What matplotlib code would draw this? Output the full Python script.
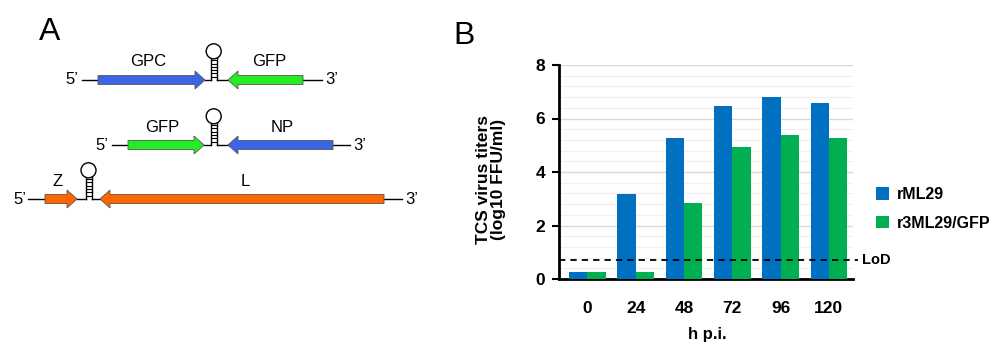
import matplotlib
matplotlib.use("Agg")
import matplotlib.pyplot as plt
import numpy as np
from matplotlib.patches import Polygon, Circle

plt.rcParams['font.family'] = ['Liberation Sans', 'DejaVu Sans']

# ---- data (panel B) ----
hpi = ["0", "24", "48", "72", "96", "120"]
rML29 = [0.27, 3.17, 5.28, 6.46, 6.80, 6.58]
r3ML29_GFP = [0.27, 0.27, 2.85, 4.92, 5.38, 5.28]
lod = 0.71
series_names = ["rML29", "r3ML29/GFP"]
series_colors = ["#0070C0", "#00B050"]

fig = plt.figure(figsize=(10, 3.56), dpi=100)

# ---- panel A: genome diagrams (pixel coordinate overlay) ----
axA = fig.add_axes([0, 0, 1, 1])
axA.set_xlim(0, 1000)
axA.set_ylim(356, 0)
axA.axis('off')

BLUE = "#3B64E6"
GREEN = "#22EE22"
ORANGE = "#FF6600"

def gene_arrow(x_tail, x_tip, y, color):
    d = 1 if x_tip > x_tail else -1
    hl = 10
    bh = 4.5
    hh = 9
    xb = x_tip - d * hl
    pts = [(x_tail, y - bh), (xb, y - bh), (xb, y - hh), (x_tip, y),
           (xb, y + hh), (xb, y + bh), (x_tail, y + bh)]
    axA.add_patch(Polygon(pts, closed=True, facecolor=color,
                          edgecolor="#555555", lw=0.6, zorder=3))

def stem_loop(xc, y, top):
    xl, xr = xc - 3, xc + 3
    axA.plot([xl, xl], [y, top], color='black', lw=1.0, zorder=2)
    axA.plot([xr, xr], [y, top], color='black', lw=1.0, zorder=2)
    for yy in np.arange(y - 3.3, top, -3.3):
        axA.plot([xl, xr], [yy, yy], color='black', lw=0.8, zorder=2)
    r = 7.5
    axA.add_patch(Circle((xc, top - r + 0.8), r, facecolor='white',
                         edgecolor='black', lw=1.0, zorder=2))

def seg(x0, x1, y):
    axA.plot([x0, x1], [y, y], color='black', lw=1.0, zorder=1)

fsA = 12
# row 1
y = 80
axA.text(72, y, "5\u2019", ha='center', va='center', fontsize=fsA)
seg(82, 98, y)
gene_arrow(98, 205, y, BLUE)
seg(205, 211, y)
stem_loop(213.7, y, 58)
seg(216.7, 228, y)
gene_arrow(303, 228, y, GREEN)
seg(303, 322, y)
axA.text(332, y, "3\u2019", ha='center', va='center', fontsize=fsA)
axA.text(148, 61, "GPC", ha='center', va='center', fontsize=fsA)
axA.text(269, 61, "GFP", ha='center', va='center', fontsize=fsA)

# row 2
y = 145
axA.text(102, y, "5\u2019", ha='center', va='center', fontsize=fsA)
seg(112, 128, y)
gene_arrow(128, 204, y, GREEN)
seg(204, 211, y)
stem_loop(213.7, y, 123)
seg(216.7, 228, y)
gene_arrow(333, 228, y, BLUE)
seg(333, 350, y)
axA.text(360, y, "3\u2019", ha='center', va='center', fontsize=fsA)
axA.text(162, 127, "GFP", ha='center', va='center', fontsize=fsA)
axA.text(282, 127, "NP", ha='center', va='center', fontsize=fsA)

# row 3
y = 199
axA.text(20, y, "5\u2019", ha='center', va='center', fontsize=fsA)
seg(28, 45, y)
gene_arrow(45, 77, y, ORANGE)
seg(77, 85.5, y)
stem_loop(88.5, y, 177)
seg(91.5, 100, y)
gene_arrow(384, 100, y, ORANGE)
seg(384, 402, y)
axA.text(412, y, "3\u2019", ha='center', va='center', fontsize=fsA)
axA.text(58, 182, "Z", ha='center', va='center', fontsize=fsA)
axA.text(245, 182, "L", ha='center', va='center', fontsize=fsA)

axA.text(50, 32, "A", ha='center', va='center', fontsize=23)
axA.text(464, 36, "B", ha='center', va='center', fontsize=23)

# ---- panel B: bar chart ----
ax = fig.add_axes([0.559, (356 - 279) / 356, 0.294, (279 - 65) / 356])
x = np.arange(len(hpi))
w = 0.38
ax.bar(x - w / 2, rML29, width=w, color=series_colors[0], label=series_names[0], zorder=3)
ax.bar(x + w / 2, r3ML29_GFP, width=w, color=series_colors[1], label=series_names[1], zorder=3)
ax.set_xlim(-0.59, 5.5)
ax.set_ylim(0, 8)
ax.set_yticks([0, 2, 4, 6, 8])
ax.set_yticks(np.arange(0, 8.01, 0.4), minor=True)
ax.yaxis.grid(True, which='major', color='#d9d9d9', lw=1.0, zorder=0)
ax.yaxis.grid(True, which='minor', color='#f0f0f0', lw=0.8, zorder=0)
ax.set_axisbelow(True)
ax.tick_params(axis='y', which='minor', length=0)
ax.set_xticks(x)
ax.set_xticklabels(hpi)
ax.tick_params(axis='x', length=0, pad=16, labelsize=12.5)
ax.tick_params(axis='y', which='major', length=5, width=1.5, pad=5, labelsize=12.5)
for lab in ax.get_xticklabels() + ax.get_yticklabels():
    lab.set_fontweight('bold')
for s in ['top', 'right']:
    ax.spines[s].set_visible(False)
ax.spines['left'].set_linewidth(2)
ax.spines['bottom'].set_linewidth(2)

ax.plot([-0.59, 5.6], [lod, lod], color='black', lw=1.3, ls=(0, (3.5, 2.8)),
        clip_on=False, zorder=4)
ax.text(5.68, lod, "LoD", ha='left', va='center', fontsize=10.5, fontweight='bold')

fig.text(0.491, 0.497, "TCS virus titers\n(log10 FFU/ml)", rotation=90,
         ha='center', va='center', fontsize=12.5, fontweight='bold',
         multialignment='center', linespacing=1.05)
fig.text(0.707, 0.059, "h p.i.", ha='center', va='center', fontsize=12,
         fontweight='bold')

leg = fig.legend(loc='upper left', bbox_to_anchor=(0.862, 0.515), frameon=False,
                 handlelength=0.8, handleheight=0.8, handletextpad=0.5,
                 labelspacing=0.85, prop={'weight': 'bold', 'size': 11.5})

fig.savefig("out.png", dpi=100)
